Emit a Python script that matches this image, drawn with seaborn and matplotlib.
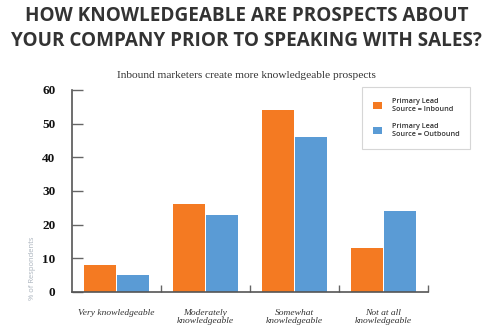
import matplotlib
matplotlib.use("Agg")
import matplotlib.pyplot as plt
import seaborn as sns
import pandas as pd
from matplotlib.patches import Patch

categories = ["Very knowledgeable", "Moderately\nknowledgeable", "Somewhat\nknowledgeable", "Not at all\nknowledgeable"]
series_names = ["Primary Lead\nSource = Inbound", "Primary Lead\nSource = Outbound"]
inbound = [8, 26, 54, 13]
outbound = [5, 23, 46, 24]
y_ticks = [0, 10, 20, 30, 40, 50, 60]
colors = ["#F47A22", "#5A9BD5"]

df = pd.DataFrame({
    "category": categories * 2,
    "series": [series_names[0]] * 4 + [series_names[1]] * 4,
    "value": inbound + outbound,
})

sns.set_theme(style="white")
plt.rcParams["font.family"] = ["DejaVu Sans"]

fig = plt.figure(figsize=(4.93, 3.31), dpi=100)
ax = fig.add_axes([72 / 493, 1 - 292 / 331, (428 - 72) / 493, (292 - 90) / 331])

sns.barplot(data=df, x="category", y="value", hue="series", order=categories,
            hue_order=series_names, palette=colors, width=0.76, gap=0.05,
            saturation=1, ax=ax, legend=False, linewidth=0)

ax.set_xlim(-0.5, 3.5)
ax.set_ylim(0, 60)
ax.set_yticks(y_ticks)
ax.set_yticklabels([str(t) for t in y_ticks], fontfamily="Liberation Serif",
                   fontweight="bold", fontsize=9.5, color="#111111")
ax.set_xticks([0, 1, 2, 3])
ax.set_xticklabels(categories, fontfamily="Liberation Serif", fontstyle="italic",
                   fontsize=6.8, color="#333333", linespacing=1.0)
ax.tick_params(axis="x", length=0, pad=12)
ax.tick_params(axis="y", direction="in", length=8, width=1, color="#666666", pad=12, left=True)
# boundary ticks on x axis
ax.set_xticks([0.5, 1.5, 2.5, 3.5], minor=True)
ax.tick_params(axis="x", which="minor", direction="in", length=5, width=1, color="#666666", bottom=True)
ax.set_xlabel("")
ax.set_ylabel("")
for s in ["top", "right"]:
    ax.spines[s].set_visible(False)
for s in ["left", "bottom"]:
    ax.spines[s].set_color("#555555")
    ax.spines[s].set_linewidth(1.2)

handles = [Patch(facecolor=colors[0], edgecolor="none"), Patch(facecolor=colors[1], edgecolor="none")]
leg = ax.legend(handles, series_names, loc="upper left", bbox_to_anchor=(362 / 493, 1 - 87 / 331),
                bbox_transform=fig.transFigure, frameon=True, fancybox=False,
                prop={"family": "Open Sans", "size": 5.2, "weight": "semibold"},
                handlelength=1.2, handleheight=1.2, handletextpad=1.4,
                labelspacing=1.4, borderpad=1.5, borderaxespad=0)
leg.get_frame().set_edgecolor("#cccccc")
leg.get_frame().set_linewidth(0.8)
for t in leg.get_texts():
    t.set_color("#333333")

fig.text(0.5, 1 - 16 / 331, "HOW KNOWLEDGEABLE ARE PROSPECTS ABOUT", ha="center", va="center",
         fontfamily="Open Sans", fontweight="bold", fontsize=13.6, color="#333333")
fig.text(0.5, 1 - 41 / 331, "YOUR COMPANY PRIOR TO SPEAKING WITH SALES?", ha="center", va="center",
         fontfamily="Open Sans", fontweight="bold", fontsize=13.6, color="#333333")
fig.text(0.5, 1 - 75 / 331, "Inbound marketers create more knowledgeable prospects", ha="center",
         va="center", fontfamily="Liberation Serif", fontsize=8.2, color="#333333")
fig.text(33 / 493, 1 - 268 / 331, "% of Respondents", rotation=90, ha="center", va="center",
         fontfamily="Open Sans", fontsize=5.5, color="#a9b2bc")

fig.savefig("out.png", dpi=100)
